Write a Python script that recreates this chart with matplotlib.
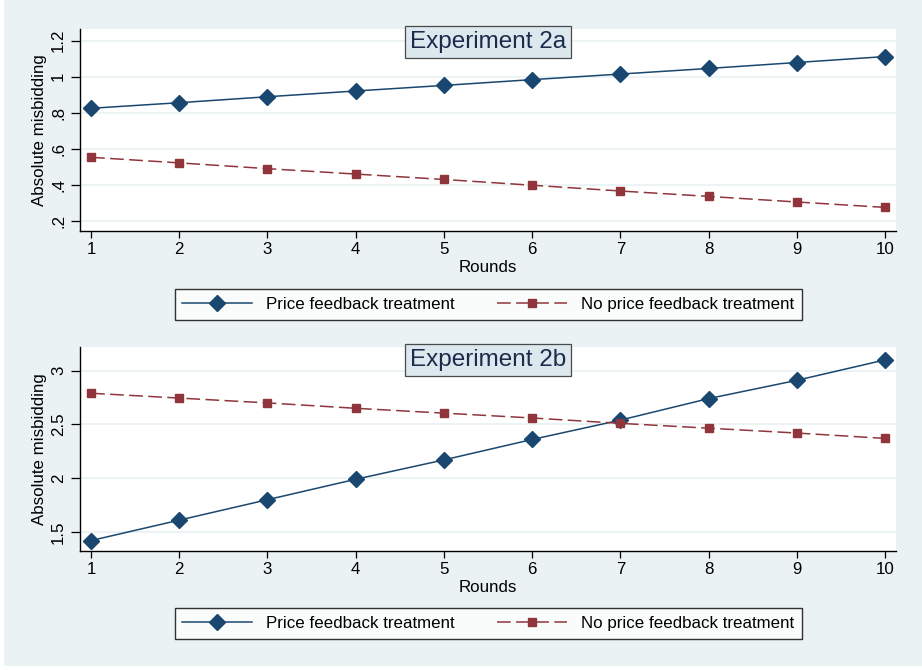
import matplotlib
matplotlib.use('Agg')
import matplotlib.pyplot as plt
from matplotlib.patches import Rectangle
from matplotlib.lines import Line2D

plt.rcParams['font.family'] = ['Liberation Sans', 'DejaVu Sans']

# data
rounds = [1, 2, 3, 4, 5, 6, 7, 8, 9, 10]
price_2a = [0.825, 0.856, 0.889, 0.921, 0.952, 0.984, 1.015, 1.046, 1.079, 1.112]
noprice_2a = [0.553, 0.522, 0.490, 0.460, 0.430, 0.398, 0.366, 0.336, 0.305, 0.275]
price_2b = [1.42, 1.61, 1.80, 1.99, 2.17, 2.36, 2.54, 2.74, 2.91, 3.10]
noprice_2b = [2.79, 2.745, 2.70, 2.65, 2.605, 2.56, 2.51, 2.465, 2.42, 2.37]

yticks_2a = [0.2, 0.4, 0.6, 0.8, 1.0, 1.2]
ylabels_2a = ['.2', '.4', '.6', '.8', '1', '1.2']
yticks_2b = [1.5, 2.0, 2.5, 3.0]
ylabels_2b = ['1.5', '2', '2.5', '3']

titles = ['Experiment 2a', 'Experiment 2b']
series_names = ['Price feedback treatment', 'No price feedback treatment']

BG = '#EAF2F3'
BLUE = '#1A476F'
RED = '#90353B'
FS = 12.2

W, H = 922, 670
fig = plt.figure(figsize=(W / 100, H / 100), dpi=100, facecolor='white')
fig.patches.append(Rectangle((4 / W, 4 / H), 1, 1, transform=fig.transFigure,
                             facecolor=BG, edgecolor='none', zorder=-10))


def panel(rect, price, noprice, yticks, ylabels, ylim, title, leg_y):
    ax = fig.add_axes(rect)
    ax.set_facecolor('white')
    ax.plot(rounds, price, color=BLUE, lw=1.1, marker='D', ms=8,
            mfc=BLUE, mec=BLUE, zorder=3)
    ax.plot(rounds, noprice, color=RED, lw=1.1, dashes=(9, 3.5),
            marker='s', ms=5.5, mfc=RED, mec=RED, zorder=3)
    ax.set_xlim(0.875, 10.125)
    ax.set_ylim(*ylim)
    ax.set_xticks(rounds)
    ax.set_yticks(yticks)
    ax.set_yticklabels(ylabels, rotation=90, va='center')
    ax.grid(axis='y', color=BG, lw=1.3)
    ax.set_axisbelow(True)
    for s in ['top', 'right']:
        ax.spines[s].set_visible(False)
    for s in ['left', 'bottom']:
        ax.spines[s].set_linewidth(1.0)
    ax.tick_params(axis='y', length=6.5, width=0.9, pad=3.5, labelsize=FS)
    ax.tick_params(axis='x', length=5, width=0.9, pad=3, labelsize=FS)
    ax.set_xlabel('Rounds', fontsize=FS, labelpad=2)
    ax.set_ylabel('Absolute misbidding', fontsize=FS, labelpad=3)
    ax.text(0.5, 0.99, title, transform=ax.transAxes, ha='center', va='top',
            fontsize=17.5, color='#1C2B4C', zorder=5,
            bbox=dict(boxstyle='square,pad=0.2', facecolor='#DCE8EE',
                      edgecolor='#4A4A4A', lw=0.9))

    handles = [Line2D([], [], color=BLUE, lw=1.1, marker='D', ms=8),
               Line2D([], [], color=RED, lw=1.1, dashes=(9, 3.5),
                      marker='s', ms=5.5)]
    leg = fig.legend(handles, series_names, loc='center',
                     bbox_to_anchor=(488.5 / W, leg_y), ncol=2, fontsize=FS,
                     frameon=True, fancybox=False, edgecolor='black',
                     handlelength=4.1, handletextpad=0.86, columnspacing=2.5,
                     borderpad=0.45, borderaxespad=0)
    leg.get_frame().set_linewidth(1.0)
    return ax


panel([80 / W, (H - 231) / H, 816 / W, 202 / H], price_2a, noprice_2a,
      yticks_2a, ylabels_2a, (0.144, 1.265), titles[0], (H - 304.5) / H)
panel([80 / W, (H - 551) / H, 816 / W, 204 / H], price_2b, noprice_2b,
      yticks_2b, ylabels_2b, (1.323, 3.22), titles[1], (H - 623.5) / H)

fig.savefig('out.png', dpi=100, facecolor=fig.get_facecolor())
